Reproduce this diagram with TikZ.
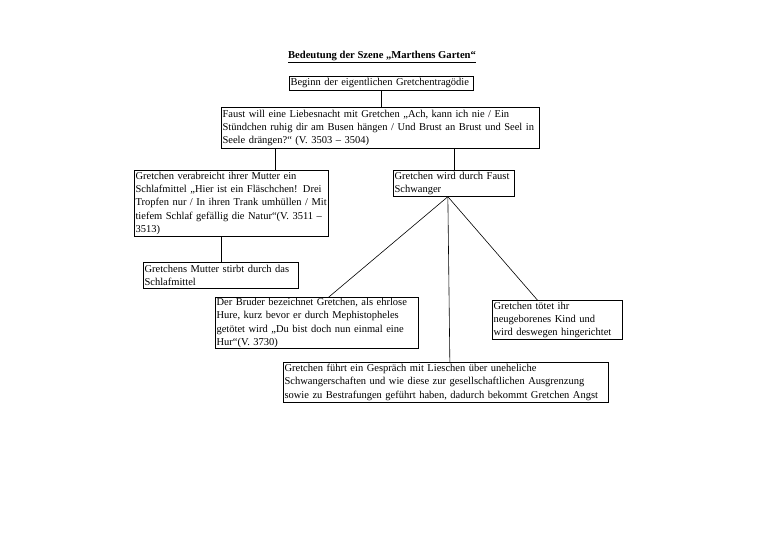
\documentclass[tikz,border=0pt]{standalone}
\usepackage{fontspec}
\setmainfont{Liberation Serif}
\usetikzlibrary{positioning}

\begin{document}
\begin{tikzpicture}[
        x=1pt, y=-1pt,
        box/.style={draw, line width=0.7pt, anchor=north west, align=left,
            inner xsep=1.2pt, inner ysep=1pt, font=\fontsize{10.5}{13.3}\selectfont},
        link/.style={line width=0.6pt}
    ]
    \useasboundingbox (0,0) rectangle (768,543);

    %% ---- Title ----
    \node[font=\fontsize{10.6}{12}\selectfont\bfseries] (title) at (382,57)
        {\underline{Bedeutung der Szene „Marthens Garten“}};

    %% ---- Boxes ----
    \node[box, text width=181.6pt, minimum height=14pt] (beginn) at (289,76)
        {Beginn der eigentlichen Gretchentragödie};
    \node[box, text width=315.6pt, minimum height=41pt] (nacht) at (221,107)
        {Faust will eine Liebesnacht mit Gretchen „Ach, kann ich nie / Ein\\
         Stündchen ruhig dir am Busen hängen / Und Brust an Brust und Seel in\\
         Seele drängen?“ (V. 3503 – 3504)};
    \node[box, text width=191.6pt, minimum height=66pt] (mittel) at (134,170)
        {Gretchen verabreicht ihrer Mutter ein\\
         Schlafmittel „Hier ist ein Fläschchen! Drei\\
         Tropfen nur / In ihren Trank umhüllen / Mit\\
         tiefem Schlaf gefällig die Natur“(V. 3511 –\\
         3513)};
    \node[box, text width=118.6pt, minimum height=26pt] (schwanger) at (393,170)
        {Gretchen wird durch Faust\\ Schwanger};
    \node[box, text width=152.6pt, minimum height=26pt] (mutter) at (143,262)
        {Gretchens Mutter stirbt durch das\\ Schlafmittel};
    \node[box, text width=200.6pt, minimum height=51pt] (bruder) at (215,297)
        {Der Bruder bezeichnet Gretchen, als ehrlose\\
         Hure, kurz bevor er durch Mephistopheles\\
         getötet wird „Du bist doch nun einmal eine\\
         Hur“(V. 3730)};
    \node[box, text width=127.6pt, minimum height=39pt] (kind) at (492,300)
        {Gretchen tötet ihr\\ neugeborenes Kind und\\ wird deswegen hingerichtet};
    \node[box, text width=322.6pt, minimum height=40pt] (lieschen) at (283,362)
        {Gretchen führt ein Gespräch mit Lieschen über uneheliche\\
         Schwangerschaften und wie diese zur gesellschaftlichen Ausgrenzung\\
         sowie zu Bestrafungen geführt haben, dadurch bekommt Gretchen Angst};

    %% ---- Connectors ----
    \draw[link] (beginn.south) -- (beginn.south |- nacht.north);
    \draw[link] ([xshift=54pt]nacht.south west) -- ([xshift=54pt]nacht.south west |- mittel.north);
    \draw[link] (schwanger.north |- nacht.south) -- (schwanger.north);
    \draw[link] (mutter.north |- mittel.south) -- (mutter.north);

    %% ---- Fan below the pregnancy ----
    \coordinate (fan) at ([xshift=-6pt]schwanger.south);
    \draw[link] (fan) -- ([xshift=12pt]bruder.north);
    \draw[link] (fan) -- ([xshift=4pt]lieschen.north);
    \draw[link] (fan) -- ([xshift=-20pt]kind.north);

\end{tikzpicture}
\end{document}
